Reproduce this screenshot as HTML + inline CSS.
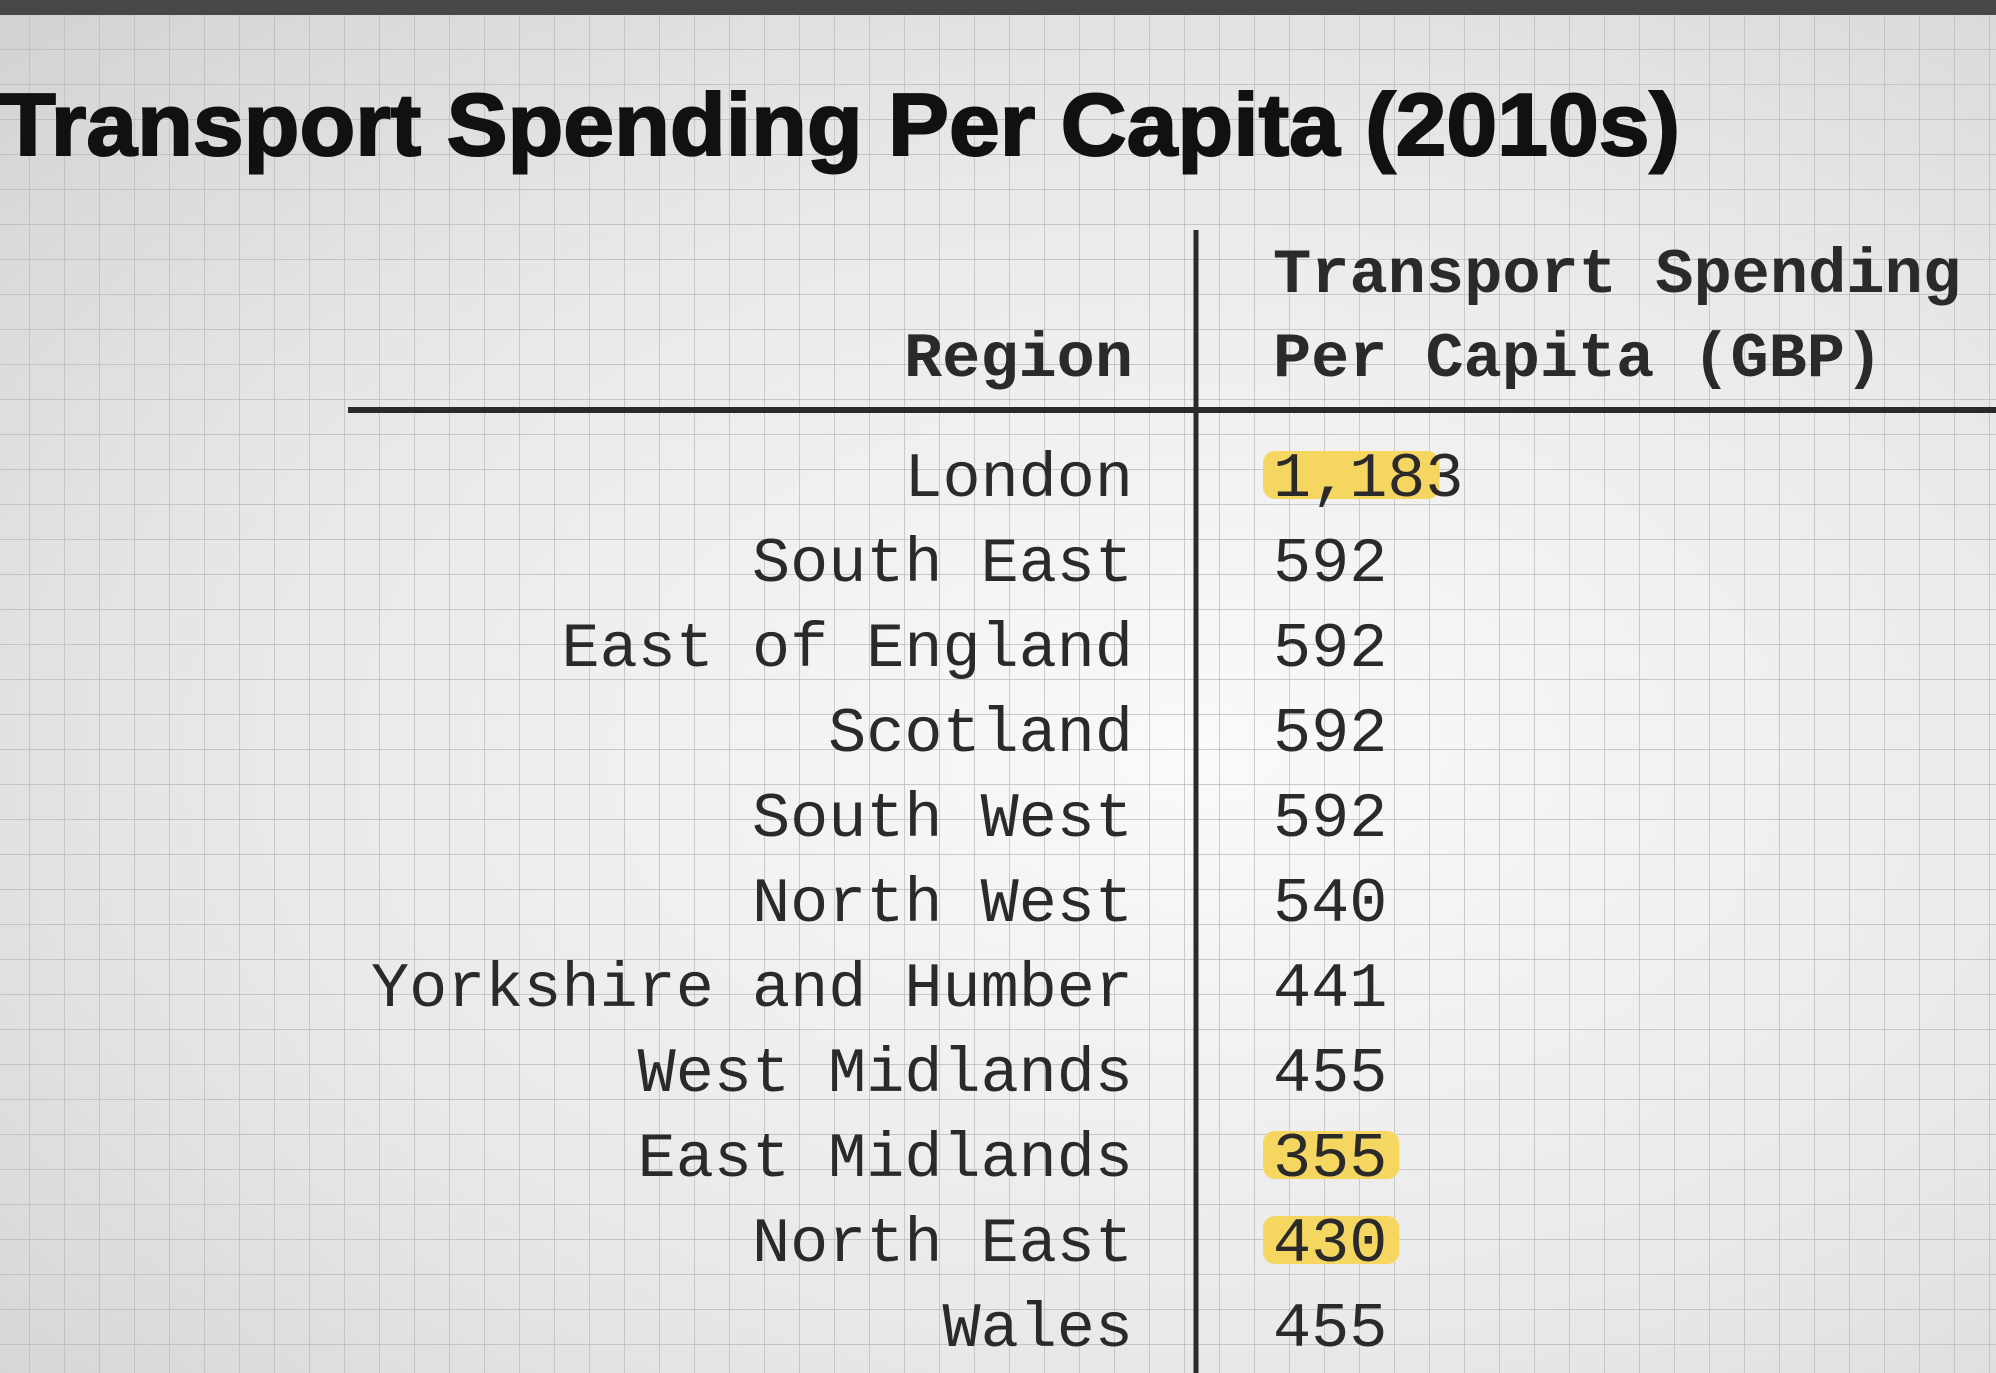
<!DOCTYPE html>
<html><head><meta charset="utf-8"><style>
html,body{margin:0;padding:0;width:1996px;height:1373px;overflow:hidden;}
body{background:radial-gradient(ellipse at 60% 55%,#fafafa 0%,#e9e9e9 55%,#d2d2d2 100%);}
svg{position:absolute;left:0;top:0;}
</style></head><body>
<svg id="chart" width="1996" height="1373" xmlns="http://www.w3.org/2000/svg">
<defs>
<pattern id="grid" width="35" height="35" patternUnits="userSpaceOnUse" x="-5" y="15">
<path d="M35 0V35M0 35H35" stroke="#b9b9b9" stroke-width="1.4" fill="none"/>
</pattern>
</defs>
<rect x="0" y="0" width="1996" height="1373" fill="url(#grid)"/>
<rect x="0" y="0" width="1996" height="15" fill="#474747"/>
<text x="0" y="155" font-family="Liberation Sans, sans-serif" font-weight="bold" font-size="88" fill="#111" stroke="#111" stroke-width="2" textLength="1680" lengthAdjust="spacingAndGlyphs">Transport Spending Per Capita (2010s)</text>
<line x1="1196" y1="230" x2="1196" y2="1373" stroke="#2a2a2a" stroke-width="5"/>
<line x1="348" y1="410" x2="1996" y2="410" stroke="#2a2a2a" stroke-width="6"/>
<text x="1133" y="376" text-anchor="end" font-family="Liberation Mono, monospace" font-weight="bold" font-size="63" fill="#2a2a2a" textLength="229" lengthAdjust="spacingAndGlyphs">Region</text>
<text x="1273" y="292" font-family="Liberation Mono, monospace" font-weight="bold" font-size="63" fill="#2a2a2a" textLength="688" lengthAdjust="spacingAndGlyphs">Transport Spending</text>
<text x="1273" y="376" font-family="Liberation Mono, monospace" font-weight="bold" font-size="63" fill="#2a2a2a" textLength="610" lengthAdjust="spacingAndGlyphs">Per Capita (GBP)</text>
<g id="rows"></g>
</svg>
<script>
const regions = ["London","South East","East of England","Scotland","South West","North West","Yorkshire and Humber","West Midlands","East Midlands","North East","Wales"];
const values = [1183,592,592,592,592,540,441,455,355,430,455];
const highlighted = ["London","East Midlands","North East"];

const NS = "http://www.w3.org/2000/svg";
const g = document.getElementById("rows");
const rowY = i => 496 + i * 85;
const charW = 38.1;
function fmt(v){ return v.toLocaleString("en-US"); }
regions.forEach((r, i) => {
  const y = rowY(i);
  const label = fmt(values[i]);
  if (highlighted.includes(r)) {
    const h = document.createElementNS(NS, "rect");
    
    
    h.setAttribute("x", 1263);
    h.setAttribute("y", y - 45);
    h.setAttribute("width", label.length * charW - (label.length > 3 ? 14 : -22));
    h.setAttribute("height", 48);
    h.setAttribute("rx", 12);
    h.setAttribute("fill", "#f5d660");
    g.appendChild(h);
  }
  const t = document.createElementNS(NS, "text");
  
  
  t.setAttribute("x", 1133);
  t.setAttribute("y", y);
  t.setAttribute("text-anchor", "end");
  t.setAttribute("font-family", "Liberation Mono, monospace");
  t.setAttribute("font-size", "63");
  t.setAttribute("fill", "#2a2a2a");
  t.setAttribute("textLength", (r.length * charW).toFixed(1));
  t.setAttribute("lengthAdjust", "spacingAndGlyphs");
  t.textContent = r;
  g.appendChild(t);
  const v = document.createElementNS(NS, "text");
  
  
  v.setAttribute("x", 1273);
  v.setAttribute("y", y);
  v.setAttribute("font-family", "Liberation Mono, monospace");
  v.setAttribute("font-size", "63");
  v.setAttribute("fill", "#2a2a2a");
  v.setAttribute("textLength", (label.length * charW).toFixed(1));
  v.setAttribute("lengthAdjust", "spacingAndGlyphs");
  v.textContent = label;
  g.appendChild(v);
});
</script>
</body></html>
